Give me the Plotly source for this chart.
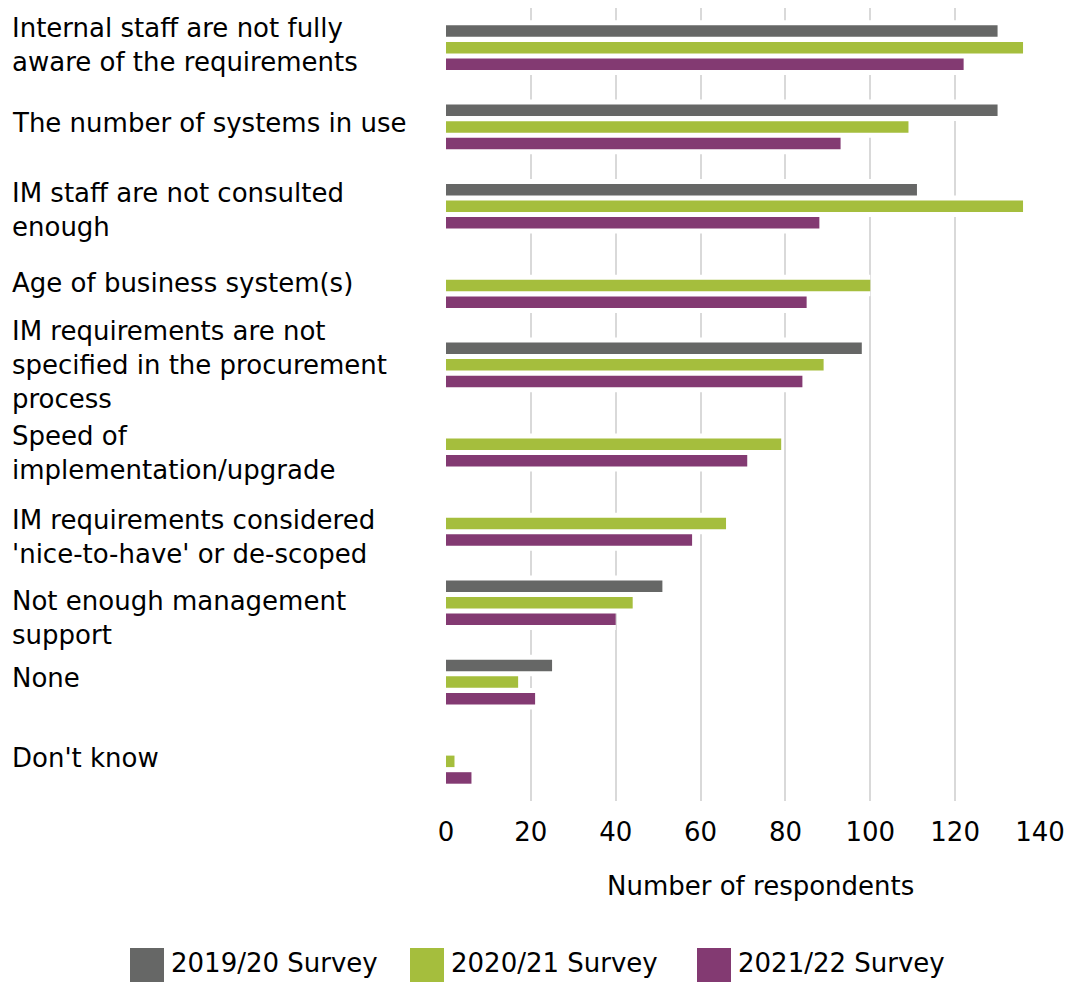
import plotly.graph_objects as go

# Barriers to building IM requirements into business systems, by survey year
categories = [
    "Internal staff are not fully<br>aware of the requirements",
    "The number of systems in use",
    "IM staff are not consulted<br>enough",
    "Age of business system(s)",
    "IM requirements are not<br>specified in the procurement<br>process",
    "Speed of<br>implementation/upgrade",
    "IM requirements considered<br>'nice-to-have' or de-scoped",
    "Not enough management<br>support",
    "None",
    "Don't know",
]
survey_2019_20 = [130, 130, 111, None, 98, None, None, 51, 25, None]
survey_2020_21 = [136, 109, 136, 100, 89, 79, 66, 44, 17, 2]
survey_2021_22 = [122, 93, 88, 85, 84, 71, 58, 40, 21, 6]
series_names = ["2019/20 Survey", "2020/21 Survey", "2021/22 Survey"]
x_ticks = [0, 20, 40, 60, 80, 100, 120, 140]

colors = ["#666766", "#A5BE3D", "#833A72"]
FONT = "DejaVu Sans"
FS = 26

W, H = 1075, 982
L, R, T, B = 446, 35, 8, 181
PW, PH = W - L - R, H - T - B
n = len(categories)
unit_px = PH / n  # pixels per category slot

pitch = 16.6 / unit_px      # spacing between bars within a group
bar_h = 11.5 / unit_px      # bar thickness
pad_h = bar_h + 10 / unit_px  # white band hiding gridlines around bars

series = [survey_2019_20, survey_2020_21, survey_2021_22]
offsets = [-pitch, 0.0, pitch]
idx = list(range(n))

fig = go.Figure()

# white backing bands so gridlines are interrupted around the bars
for vals, off in zip(series, offsets):
    fig.add_trace(go.Bar(
        x=vals, y=[i + off for i in idx], orientation="h",
        width=pad_h, marker=dict(color="white", line=dict(width=0)),
        showlegend=False, hoverinfo="skip",
    ))

for vals, off, col, name in zip(series, offsets, colors, series_names):
    fig.add_trace(go.Bar(
        x=vals, y=[i + off for i in idx], orientation="h",
        width=bar_h, name=name,
        marker=dict(color=col, line=dict(width=0)),
        showlegend=False,
    ))

fig.update_layout(
    width=W, height=H,
    margin=dict(l=L, r=R, t=T, b=B, pad=0),
    barmode="overlay",
    plot_bgcolor="white", paper_bgcolor="white",
    font=dict(family=FONT, size=FS, color="#000000"),
    xaxis=dict(
        range=[0, 140], tickvals=x_ticks, ticktext=[str(v) for v in x_ticks],
        showgrid=True, gridcolor="#D9D9D9", gridwidth=2,
        zeroline=False, showline=False, ticks="",
        ticklabelstandoff=13,
        tickfont=dict(family=FONT, size=FS, color="#000000"),
        fixedrange=True,
    ),
    yaxis=dict(
        range=[n - 0.5, -0.5], showticklabels=False, showgrid=False,
        zeroline=False, showline=False, ticks="", fixedrange=True,
    ),
)

def px_x(px):
    return (px - L) / PW

def px_y(py):
    return (H - B - py) / PH

# category labels, left aligned at the page edge
label_shift = [3, 4, -4, 2.5, 0, -9, -14, -15, 4, 3]
for i, (lab, sh) in enumerate(zip(categories, label_shift)):
    fig.add_annotation(
        text=lab, xref="paper", yref="y", x=px_x(10), y=i,
        xanchor="left", yanchor="middle", align="left",
        showarrow=False, yshift=sh,
        font=dict(family=FONT, size=FS, color="#000000"),
    )

# axis title
fig.add_annotation(
    text="Number of respondents", xref="paper", yref="paper",
    x=px_x(760), y=px_y(886), xanchor="center", yanchor="middle",
    showarrow=False, font=dict(family=FONT, size=FS, color="#000000"),
)

# legend drawn below the axis title
legend_swatch_left = [130, 410, 697]
for name, col, sx in zip(series_names, colors, legend_swatch_left):
    fig.add_shape(
        type="rect", xref="paper", yref="paper",
        x0=px_x(sx), x1=px_x(sx + 34), y0=px_y(984), y1=px_y(948),
        fillcolor=col, line=dict(width=0),
    )
    fig.add_annotation(
        text=name, xref="paper", yref="paper",
        x=px_x(sx + 39), y=px_y(963), xanchor="left", yanchor="middle",
        showarrow=False, font=dict(family=FONT, size=FS, color="#000000"),
    )

fig.write_html("out.html")
